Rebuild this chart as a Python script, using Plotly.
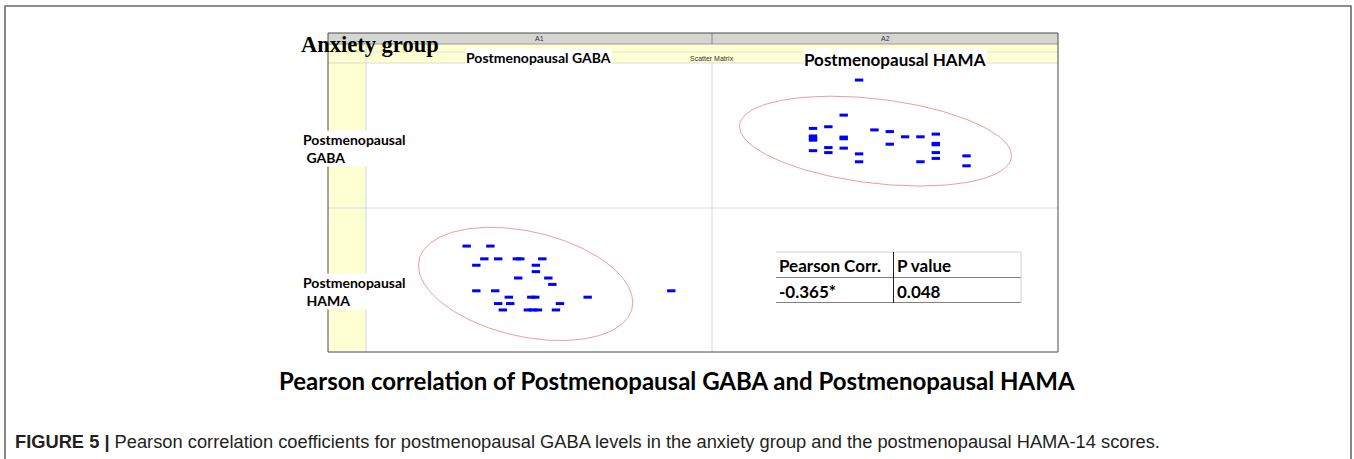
import numpy as np
import plotly.graph_objects as go

W, H = 1354, 459

# ---- data ----
hama = [14, 14, 14, 14, 14, 15, 15, 15, 16, 16, 16, 16, 17, 17, 17, 18, 19, 19, 20,
        21, 21, 22, 22, 22, 22, 22, 24, 24]
gaba = [5.17, 6.42, 6.67, 6.92, 7.82, 4.94, 5.54, 8.02, 5.47, 6.59, 6.79, 9.40,
        3.85, 4.79, 13.57, 7.64, 5.94, 7.44, 6.82, 3.85, 6.82, 4.25, 4.94, 5.87,
        6.04, 7.14, 3.37, 4.55]
var_names = ["Postmenopausal GABA", "Postmenopausal HAMA"]
cell_names = ["A1", "A2"]
table_header = ["Pearson Corr.", "P value"]
table_values = ["-0.365*", "0.048"]
group_label = "Anxiety group"
chart_title = "Pearson correlation of Postmenopausal GABA and Postmenopausal HAMA"
caption_bold = "FIGURE 5 |"
caption_text = (" Pearson correlation coefficients for postmenopausal GABA levels in the "
                "anxiety group and the postmenopausal HAMA-14 scores.")

GABA_RANGE = [-1.65, 15.6]
HAMA_RANGE = [7.42, 29.96]
ELLIPSE_K = 2.65


def fx(p):
    return p / W


def fy(p):
    return 1 - p / H


# confidence ellipse from the data covariance
xy = np.vstack([np.array(gaba), np.array(hama, dtype=float)])
mean = xy.mean(axis=1)
cov = np.cov(xy)
L = np.linalg.cholesky(cov)
t = np.linspace(0, 2 * np.pi, 200)
circ = np.vstack([np.cos(t), np.sin(t)])
ell = mean[:, None] + ELLIPSE_K * (L @ circ)

blue = "#0000FF"
ell_color = "rgba(238,120,120,0.75)"
marker = dict(symbol="line-ew", size=6, line=dict(width=3, color=blue), color=blue)

fig = go.Figure()
# lower-left: x = GABA, y = HAMA
fig.add_trace(go.Scatter(x=ell[0], y=ell[1], mode="lines", line=dict(color=ell_color, width=1),
                         xaxis="x", yaxis="y", hoverinfo="skip"))
fig.add_trace(go.Scatter(x=gaba, y=hama, mode="markers", marker=marker, xaxis="x", yaxis="y"))
# upper-right: x = HAMA, y = GABA
fig.add_trace(go.Scatter(x=ell[1], y=ell[0], mode="lines", line=dict(color=ell_color, width=1),
                         xaxis="x2", yaxis="y2", hoverinfo="skip"))
fig.add_trace(go.Scatter(x=hama, y=gaba, mode="markers", marker=marker, xaxis="x2", yaxis="y2"))

ax = dict(showgrid=False, zeroline=False, showticklabels=False, ticks="", showline=False,
          fixedrange=True)

shapes = []


def rect(x0, y0, x1, y1, fill=None, line=None, lw=0):
    d = dict(type="rect", xref="paper", yref="paper", x0=fx(x0), x1=fx(x1), y0=fy(y1), y1=fy(y0),
             layer="below")
    d["fillcolor"] = fill if fill else "rgba(0,0,0,0)"
    d["line"] = dict(color=line if line else "rgba(0,0,0,0)", width=lw)
    shapes.append(d)


def seg(x0, y0, x1, y1, color, lw=1, layer="below"):
    shapes.append(dict(type="line", xref="paper", yref="paper", x0=fx(x0), x1=fx(x1),
                       y0=fy(y0), y1=fy(y1), line=dict(color=color, width=lw), layer=layer))


yellow = "#FFFFD4"
grey = "#D5D5D1"
# outer page frame
rect(5, 6, 1351, 480, line="#6a6a6a", lw=1.6)
# SPSS output area
rect(328, 33, 1058, 44, fill=grey)
rect(328, 44, 1058, 63, fill=yellow)
rect(328, 63, 366, 352, fill=yellow)
seg(328, 44, 1058, 44, "#9a9a9a")
seg(328, 52, 1058, 52, "#e6e6c8")
seg(328, 63, 1058, 63, "#dcdcc8")
seg(328, 208, 1058, 208, "#dcdcdc")
seg(366, 33, 366, 352, "#d6d6d6")
seg(712, 33, 712, 44, "#8a8a8a")
seg(712, 63, 712, 352, "#d6d6d6")
rect(328, 33, 1058, 352, line="#4a4a4a", lw=1)
# table lines
seg(776, 252, 1021, 252, "#d0d0d0", layer="above")
seg(776, 277.5, 1021, 277.5, "#808080", layer="above")
seg(776, 302.5, 1021, 302.5, "#808080", layer="above")
seg(893.5, 252, 893.5, 303, "#202020", layer="above")
seg(1021, 252, 1021, 303, "#d0d0d0", layer="above")

ann = []


def text(x, y, s, size, family, color="#000", xanchor="center", bg=None, bold=False, align="left"):
    a = dict(xref="paper", yref="paper", x=fx(x), y=fy(y), text=f"<b>{s}</b>" if bold else s,
             showarrow=False, xanchor=xanchor, yanchor="middle", align=align,
             font=dict(size=size, family=family, color=color), borderpad=0)
    if bg:
        a["bgcolor"] = bg
    ann.append(a)


calibri = "Lato, sans-serif"
# cell header labels
text(539, 38.5, cell_names[0], 7, "Arial", color="#333")
text(885, 38.5, cell_names[1], 7, "Arial", color="#333")
text(712, 58.5, "Scatter Matrix", 7, "Arial", color="#333")
# column variable labels
text(538, 57, var_names[0], 14, calibri, bg="white", bold=True)
text(895, 60, var_names[1], 17, calibri, bg="white", bold=True)
# row variable labels
text(302, 148, "Postmenopausal<br> GABA", 14, calibri, xanchor="left", bg="white", bold=True)
text(302, 291, "Postmenopausal<br> HAMA", 14, calibri, xanchor="left", bg="white", bold=True)
# group label
text(300, 45, group_label, 22.5, "Liberation Serif, Times New Roman, serif", bold=True, xanchor="left")
# table text
text(778, 265.5, table_header[0], 17, calibri, xanchor="left", bold=True)
text(896, 265.5, table_header[1], 17, calibri, xanchor="left", bold=True)
text(778, 291, table_values[0], 17, calibri, xanchor="left", bold=True)
text(896, 291, table_values[1], 17, calibri, xanchor="left", bold=True)
# chart title
text(677, 380, chart_title, 24, calibri, bold=True)
# caption
text(14, 441, f"<b>{caption_bold}</b>{caption_text}", 18.3, "Liberation Sans, Arial, sans-serif",
     color="#231f20", xanchor="left")

fig.update_layout(
    width=W, height=H, margin=dict(l=0, r=0, t=0, b=0),
    paper_bgcolor="white", plot_bgcolor="rgba(0,0,0,0)", showlegend=False,
    xaxis=dict(domain=[fx(366), fx(712)], range=GABA_RANGE, anchor="y", **ax),
    yaxis=dict(domain=[fy(352), fy(208)], range=HAMA_RANGE, anchor="x", **ax),
    xaxis2=dict(domain=[fx(712), fx(1058)], range=HAMA_RANGE, anchor="y2", **ax),
    yaxis2=dict(domain=[fy(208), fy(63)], range=GABA_RANGE, anchor="x2", **ax),
    shapes=shapes, annotations=ann,
)

fig.write_html("out.html", config={"displayModeBar": False},
               post_script="document.body.style.margin='0';document.body.style.overflow='hidden';")
